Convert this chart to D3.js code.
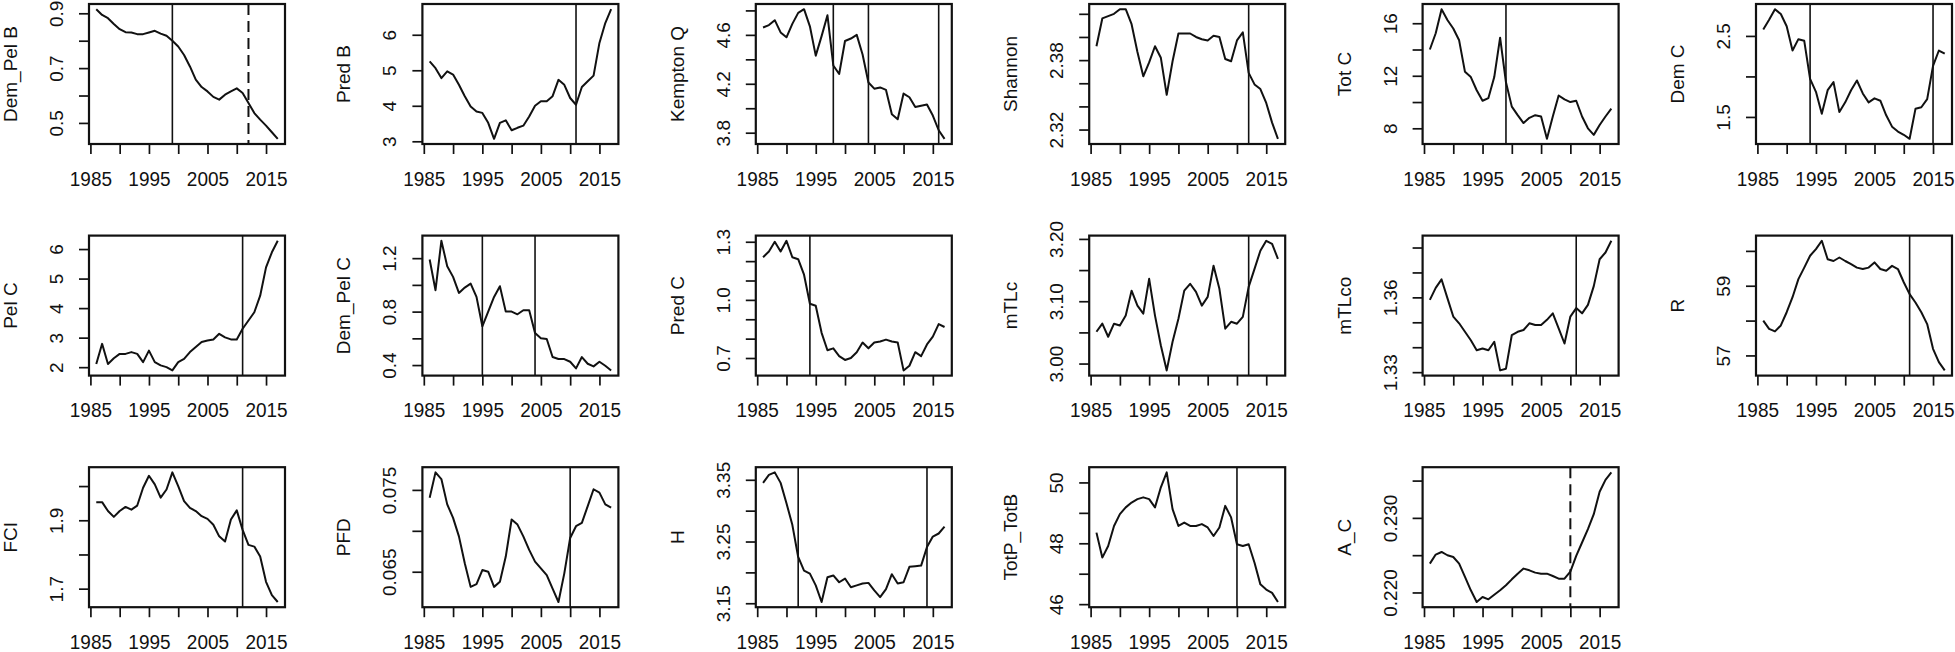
<!DOCTYPE html>
<html>
<head>
<meta charset="utf-8">
<script src="https://cdn.jsdelivr.net/npm/d3@7"></script>
<style>
  html, body { margin: 0; padding: 0; background: #fff; }
  svg text { font-family: "Liberation Sans", Arial, sans-serif; fill: #111; }
</style>
</head>
<body>
<div id="dataVis"></div>
<script>
// years of the time series
var years = [1986, 1987, 1988, 1989, 1990, 1991, 1992, 1993, 1994, 1995, 1996,
  1997, 1998, 1999, 2000, 2001, 2002, 2003, 2004, 2005, 2006, 2007, 2008,
  2009, 2010, 2011, 2012, 2013, 2014, 2015, 2016, 2017];

var xTicks = [1985, 1990, 1995, 2000, 2005, 2010, 2015];
var xLabels = [1985, 1995, 2005, 2015];

// panel names, left to right, top to bottom
var names = ["Dem_Pel B", "Pred B", "Kempton Q", "Shannon", "Tot C", "Dem C",
  "Pel C", "Dem_Pel C", "Pred C", "mTLc", "mTLco", "R",
  "FCI", "PFD", "H", "TotP_TotB", "A_C"];

// series values
var demPelB = [0.915, 0.894, 0.882, 0.861, 0.842, 0.831, 0.830, 0.824, 0.824, 0.830, 0.836, 0.826, 0.818, 0.800, 0.779, 0.748, 0.706, 0.658, 0.631, 0.615, 0.595, 0.585, 0.603, 0.615, 0.626, 0.609, 0.573, 0.536, 0.512, 0.490, 0.466, 0.442];
var predB = [5.25, 5.06, 4.78, 4.97, 4.88, 4.59, 4.27, 3.98, 3.84, 3.80, 3.52, 3.07, 3.52, 3.59, 3.31, 3.38, 3.44, 3.70, 4.00, 4.13, 4.13, 4.27, 4.73, 4.59, 4.22, 4.03, 4.53, 4.69, 4.85, 5.77, 6.33, 6.72];
var kemptonQ = [4.66, 4.68, 4.72, 4.62, 4.58, 4.69, 4.78, 4.81, 4.67, 4.43, 4.59, 4.76, 4.35, 4.28, 4.55, 4.57, 4.60, 4.44, 4.21, 4.16, 4.17, 4.15, 3.95, 3.91, 4.12, 4.09, 4.01, 4.02, 4.03, 3.94, 3.82, 3.75];
var shannon = [2.392, 2.416, 2.418, 2.420, 2.424, 2.424, 2.411, 2.387, 2.366, 2.378, 2.392, 2.382, 2.350, 2.379, 2.403, 2.403, 2.403, 2.400, 2.398, 2.397, 2.401, 2.400, 2.381, 2.379, 2.397, 2.404, 2.369, 2.359, 2.355, 2.343, 2.326, 2.312];
var totC = [14.0, 15.24, 17.07, 16.25, 15.6, 14.7, 12.3, 11.9, 10.9, 10.1, 10.3, 11.9, 14.9, 11.5, 9.65, 9.0, 8.4, 8.8, 9.0, 8.9, 7.2, 8.9, 10.5, 10.2, 10.0, 10.1, 8.9, 8.0, 7.5, 8.25, 8.9, 9.5];
var demC = [2.58, 2.70, 2.83, 2.77, 2.62, 2.32, 2.46, 2.44, 1.97, 1.81, 1.54, 1.83, 1.93, 1.56, 1.68, 1.83, 1.95, 1.79, 1.68, 1.73, 1.70, 1.52, 1.38, 1.32, 1.28, 1.23, 1.60, 1.62, 1.72, 2.13, 2.32, 2.28];
var pelC = [2.11, 2.79, 2.11, 2.30, 2.45, 2.45, 2.51, 2.45, 2.17, 2.56, 2.17, 2.06, 2.00, 1.89, 2.17, 2.28, 2.51, 2.68, 2.85, 2.90, 2.94, 3.13, 3.01, 2.94, 2.94, 3.30, 3.58, 3.86, 4.42, 5.38, 5.89, 6.28];
var demPelC = [1.19, 0.96, 1.33, 1.14, 1.06, 0.94, 0.98, 1.01, 0.91, 0.69, 0.80, 0.91, 0.99, 0.80, 0.80, 0.78, 0.81, 0.81, 0.64, 0.60, 0.595, 0.46, 0.445, 0.445, 0.425, 0.375, 0.46, 0.41, 0.39, 0.425, 0.395, 0.36];
var predC = [1.22, 1.25, 1.30, 1.25, 1.305, 1.22, 1.21, 1.13, 0.98, 0.97, 0.83, 0.74, 0.75, 0.71, 0.69, 0.70, 0.73, 0.78, 0.75, 0.78, 0.785, 0.795, 0.785, 0.78, 0.636, 0.66, 0.73, 0.71, 0.77, 0.81, 0.875, 0.86];
var mTLc = [3.051, 3.064, 3.043, 3.064, 3.061, 3.077, 3.117, 3.093, 3.080, 3.136, 3.077, 3.029, 2.989, 3.035, 3.072, 3.117, 3.128, 3.115, 3.093, 3.107, 3.157, 3.120, 3.056, 3.067, 3.064, 3.075, 3.123, 3.152, 3.181, 3.197, 3.192, 3.168];
var mTLco = [1.3590, 1.3638, 1.3672, 1.3597, 1.3523, 1.3496, 1.3462, 1.3428, 1.3388, 1.3395, 1.3388, 1.3422, 1.3307, 1.3314, 1.3449, 1.3462, 1.3469, 1.3496, 1.3489, 1.3489, 1.3510, 1.3536, 1.3476, 1.3415, 1.3523, 1.3557, 1.3536, 1.3570, 1.3645, 1.3753, 1.3780, 1.3827];
var rich = [58.00, 57.76, 57.69, 57.86, 58.24, 58.67, 59.19, 59.52, 59.86, 60.05, 60.29, 59.76, 59.71, 59.81, 59.71, 59.62, 59.52, 59.48, 59.52, 59.67, 59.48, 59.43, 59.57, 59.48, 59.10, 58.76, 58.52, 58.24, 57.90, 57.19, 56.81, 56.57];
var fci = [1.953, 1.953, 1.927, 1.910, 1.927, 1.939, 1.931, 1.943, 1.995, 2.030, 2.005, 1.966, 1.990, 2.040, 2.000, 1.956, 1.936, 1.927, 1.912, 1.904, 1.887, 1.853, 1.838, 1.902, 1.929, 1.872, 1.828, 1.823, 1.794, 1.720, 1.681, 1.661];
var pfd = [0.07405, 0.07714, 0.07632, 0.07323, 0.07158, 0.06932, 0.06603, 0.06315, 0.06348, 0.06521, 0.06500, 0.06315, 0.06377, 0.06685, 0.07138, 0.07076, 0.06932, 0.06767, 0.06623, 0.06541, 0.06459, 0.06294, 0.06130, 0.06480, 0.06912, 0.07056, 0.07097, 0.07302, 0.07508, 0.07467, 0.07323, 0.07282];
var hVals = [3.345, 3.358, 3.362, 3.345, 3.312, 3.277, 3.225, 3.203, 3.198, 3.179, 3.152, 3.192, 3.195, 3.184, 3.190, 3.176, 3.179, 3.182, 3.183, 3.171, 3.160, 3.173, 3.197, 3.182, 3.184, 3.209, 3.210, 3.211, 3.241, 3.258, 3.263, 3.274];
var totPTotB = [48.35, 47.53, 47.91, 48.57, 48.96, 49.18, 49.34, 49.45, 49.51, 49.45, 49.18, 49.84, 50.33, 49.12, 48.57, 48.68, 48.57, 48.57, 48.63, 48.52, 48.24, 48.52, 49.23, 48.85, 47.97, 47.91, 47.97, 47.36, 46.65, 46.48, 46.37, 46.07];
var aC = [0.22387, 0.22508, 0.22543, 0.22499, 0.22476, 0.22387, 0.22208, 0.22029, 0.21872, 0.21939, 0.21908, 0.21970, 0.22029, 0.22096, 0.22176, 0.22252, 0.22320, 0.22297, 0.22266, 0.22252, 0.22252, 0.22221, 0.22185, 0.22185, 0.22280, 0.22490, 0.22670, 0.22850, 0.23050, 0.23350, 0.23510, 0.23610];

var series = [demPelB, predB, kemptonQ, shannon, totC, demC, pelC, demPelC, predC,
  mTLc, mTLco, rich, fci, pfd, hVals, totPTotB, aC];

// y ticks of each panel, and which ones carry a label
var yTicks = [
  [0.5, 0.6, 0.7, 0.8, 0.9], [3, 4, 5, 6], [3.8, 4.0, 4.2, 4.4, 4.6, 4.8],
  [2.32, 2.34, 2.36, 2.38, 2.40, 2.42], [8, 10, 12, 14, 16], [1.5, 2.0, 2.5],
  [2, 3, 4, 5, 6], [0.4, 0.6, 0.8, 1.0, 1.2], [0.7, 0.8, 0.9, 1.0, 1.1, 1.2, 1.3],
  [3.00, 3.05, 3.10, 3.15, 3.20], [1.33, 1.34, 1.35, 1.36, 1.37, 1.38], [57, 58, 59, 60],
  [1.7, 1.8, 1.9, 2.0], [0.065, 0.070, 0.075], [3.15, 3.20, 3.25, 3.30, 3.35],
  [46, 47, 48, 49, 50], [0.220, 0.225, 0.230, 0.235]
];
var yLabels = [
  ["0.5", "0.7", "0.9"], ["3", "4", "5", "6"], ["3.8", "4.2", "4.6"],
  ["2.32", "2.38"], ["8", "12", "16"], ["1.5", "2.5"],
  ["2", "3", "4", "5", "6"], ["0.4", "0.8", "1.2"], ["0.7", "1.0", "1.3"],
  ["3.00", "3.10", "3.20"], ["1.33", "1.36"], ["57", "59"],
  ["1.7", "1.9"], ["0.065", "0.075"], ["3.15", "3.25", "3.35"],
  ["46", "48", "50"], ["0.220", "0.230"]
];

// break years (vertical lines); dashed ones separately
var breaks = [[1999], [2011], [1998, 2004, 2016], [2012], [1999], [1994, 2015],
  [2011], [1995, 2004], [1994], [2012], [2011], [2011],
  [2011], [2010], [1992, 2014], [2010], []];
var dashedBreaks = [[2012], [], [], [], [], [], [], [], [], [], [], [], [], [], [], [], [2010]];


var winWidth = 1955, winHeight = 652;

// grid of panels
var colX0 = 89, colStep = 333.4, boxW = 196;
var rowY0 = 4, rowStep = 231.6, boxH = 140;

var svg = d3.select("#dataVis").append("svg")
  .attr("width", winWidth)
  .attr("height", winHeight);

svg.append("rect").attr("width", winWidth).attr("height", winHeight).attr("fill", "#fff");

// R style axis range: data range padded by 4% each side
function padded(ext) {
  var p = (ext[1] - ext[0]) * 0.04;
  return [ext[0] - p, ext[1] + p];
}

var x = d3.scaleLinear()
  .domain(padded(d3.extent(years)))
  .range([0, boxW]);

var xStretch = 1.1; // tick years look a bit taller in the picture

series.forEach(function (vals, i) {
  var col = i % 6, row = Math.floor(i / 6);
  var g = svg.append("g")
    .attr("transform", "translate(" + (colX0 + col * colStep) + "," + (rowY0 + row * rowStep) + ")");

  var y = d3.scaleLinear()
    .domain(padded(d3.extent(vals)))
    .range([boxH, 0]);

  var labs = yLabels[i];

  // x axis
  var xa = g.append("g")
    .attr("transform", "translate(0," + boxH + ")")
    .call(d3.axisBottom(x)
      .tickValues(xTicks)
      .tickFormat(function (d) { return xLabels.indexOf(d) >= 0 ? d : ""; })
      .tickSize(10)
      .tickPadding(17));
  xa.select(".domain").remove();
  xa.selectAll("line").attr("stroke", "#111").attr("stroke-width", 1.7);
  xa.selectAll("text")
    .attr("y", 27 / xStretch)
    .attr("transform", "scale(1," + xStretch + ")")
    .style("font-size", "19px")
    .attr("fill", "#111");

  // y axis with labels parallel to the axis
  var ya = g.append("g")
    .call(d3.axisLeft(y)
      .tickValues(yTicks[i])
      .tickFormat(function (d) {
        var hit = labs.filter(function (s) { return Math.abs(+s - d) < 1e-9; });
        return hit.length ? hit[0] : "";
      })
      .tickSize(10));
  ya.select(".domain").remove();
  ya.selectAll("line").attr("stroke", "#111").attr("stroke-width", 1.7);
  ya.selectAll("text")
    .attr("x", null)
    .attr("dy", null)
    .attr("transform", "translate(-26,0) rotate(-90)")
    .attr("text-anchor", "middle")
    .style("font-size", "19px")
    .attr("fill", "#111");

  // vertical break lines
  breaks[i].forEach(function (yr) {
    g.append("line")
      .attr("x1", x(yr)).attr("x2", x(yr))
      .attr("y1", 0).attr("y2", boxH)
      .attr("stroke", "#111").attr("stroke-width", 1.6);
  });
  dashedBreaks[i].forEach(function (yr) {
    g.append("line")
      .attr("x1", x(yr)).attr("x2", x(yr))
      .attr("y1", 0).attr("y2", boxH)
      .attr("stroke", "#111").attr("stroke-width", 2)
      .attr("stroke-dasharray", "11,6");
  });

  // the series
  var line = d3.line()
    .x(function (d, k) { return x(years[k]); })
    .y(function (d) { return y(d); });

  g.append("path")
    .datum(vals)
    .attr("d", line)
    .attr("fill", "none")
    .attr("stroke", "#111")
    .attr("stroke-width", 2)
    .attr("stroke-linejoin", "round");

  // box
  g.append("rect")
    .attr("x", 0).attr("y", 0)
    .attr("width", boxW).attr("height", boxH)
    .attr("fill", "none")
    .attr("stroke", "#111")
    .attr("stroke-width", 2.2);

  // y axis title
  g.append("text")
    .attr("transform", "translate(-72," + (boxH / 2) + ") rotate(-90)")
    .attr("text-anchor", "middle")
    .style("font-size", "19px")
    .text(names[i]);
});
</script>
</body>
</html>
